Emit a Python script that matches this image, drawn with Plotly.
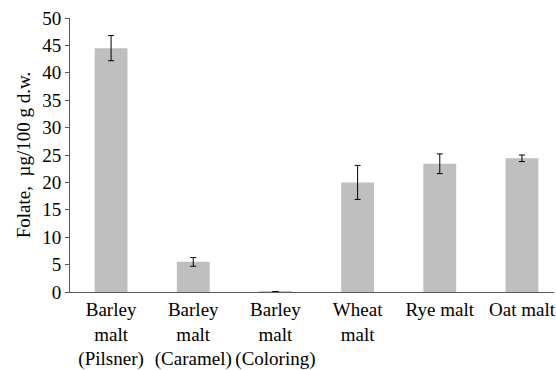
import plotly.graph_objects as go

categories = ["Barley<br>malt<br>(Pilsner)", "Barley<br>malt<br>(Caramel)", "Barley<br>malt<br>(Coloring)",
              "Wheat<br>malt", "Rye malt", "Oat malt"]
values = [44.5, 5.5, 0.05, 20.0, 23.4, 24.4]
errors = [2.3, 0.8, 0.05, 3.1, 1.8, 0.6]
y_ticks = [0, 5, 10, 15, 20, 25, 30, 35, 40, 45, 50]

font = "Liberation Serif"

fig = go.Figure(go.Bar(
    x=list(range(len(categories))), y=values,
    marker=dict(color="#bfbfbf", line=dict(width=0)),
    error_y=dict(type="data", array=errors, visible=True, color="#000000", thickness=1, width=3),
    width=0.4,
))

fig.update_layout(
    width=556, height=370,
    margin=dict(l=70, r=0, t=18, b=76),
    plot_bgcolor="white", paper_bgcolor="white",
    font=dict(family=font, size=19, color="#000000"),
    showlegend=False,
    xaxis=dict(
        tickmode="array", tickvals=list(range(len(categories))), ticktext=categories,
        range=[-0.5, 5.39], showline=True, linecolor="#595959", linewidth=1,
        ticks="", showgrid=False, zeroline=False, tickfont=dict(family=font, size=19),
        ticklabeloverflow="allow",
    ),
    yaxis=dict(
        range=[0, 50], tickvals=y_ticks, showline=True, linecolor="#595959", linewidth=1,
        ticks="outside", ticklen=4, tickcolor="#595959", showgrid=False, zeroline=False,
        title=dict(text="Folate,\u00a0\u00a0µg/100 g d.w.", font=dict(family=font, size=19), standoff=6),
        tickfont=dict(family=font, size=19),
    ),
)

fig.write_html("out.html")
